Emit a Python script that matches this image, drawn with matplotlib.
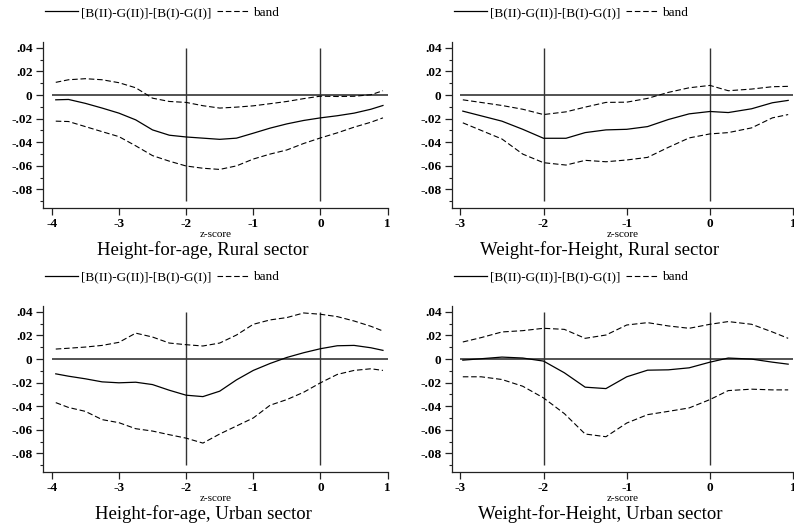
import matplotlib
matplotlib.use("Agg")
import matplotlib.pyplot as plt
from matplotlib.lines import Line2D

plt.rcParams['font.family'] = ['Liberation Serif', 'DejaVu Serif']

# ---------------- data ----------------
x_hfa = [-3.94, -3.75, -3.5, -3.25, -3, -2.75, -2.5, -2.25, -2, -1.75, -1.5,
         -1.25, -1, -0.75, -0.5, -0.25, 0, 0.25, 0.5, 0.75, 0.93]

hfa_rural_est = [-0.004, -0.0037, -0.007, -0.011, -0.0153, -0.021, -0.0295, -0.034,
                 -0.0355, -0.0365, -0.0375, -0.0365, -0.0323, -0.028, -0.0244, -0.0215,
                 -0.0193, -0.0175, -0.0153, -0.012, -0.0088]
hfa_rural_up = [0.0108, 0.013, 0.0139, 0.013, 0.0105, 0.0062, -0.0026, -0.0054,
                -0.0062, -0.009, -0.011, -0.0102, -0.0091, -0.0073, -0.0054, -0.003,
                -0.0009, -0.0012, -0.001, 0.0003, 0.0037]
hfa_rural_lo = [-0.0221, -0.0224, -0.0267, -0.031, -0.0352, -0.043, -0.0513, -0.056,
                -0.0601, -0.062, -0.063, -0.060, -0.0542, -0.050, -0.0465, -0.041,
                -0.0363, -0.032, -0.0272, -0.023, -0.0193]

hfa_urban_est = [-0.0125, -0.0145, -0.0167, -0.0193, -0.0201, -0.0196, -0.0216, -0.0264,
                 -0.0306, -0.0318, -0.0272, -0.0176, -0.0096, -0.0037, 0.0014, 0.0054,
                 0.0088, 0.0113, 0.0116, 0.0096, 0.0074]
hfa_urban_up = [0.0085, 0.0092, 0.0102, 0.0116, 0.0142, 0.022, 0.0187, 0.0136,
                0.0122, 0.0111, 0.0136, 0.0204, 0.0295, 0.0332, 0.0352, 0.0391,
                0.038, 0.036, 0.0323, 0.0278, 0.0238]
hfa_urban_lo = [-0.0369, -0.041, -0.0443, -0.0513, -0.0539, -0.059, -0.061, -0.0641,
                -0.067, -0.0712, -0.0635, -0.0567, -0.0499, -0.0391, -0.0343, -0.0281,
                -0.0201, -0.013, -0.0096, -0.0082, -0.0096]

x_wfh_r = [-2.97, -2.5, -2.25, -2, -1.73, -1.5, -1.25, -1, -0.75, -0.5, -0.25,
           0, 0.22, 0.5, 0.75, 0.94]
wfh_rural_est = [-0.0136, -0.0221, -0.029, -0.0366, -0.0366, -0.0318, -0.0295, -0.029,
                 -0.0267, -0.0207, -0.0159, -0.0139, -0.0148, -0.0116, -0.0065, -0.0045]
wfh_rural_up = [-0.004, -0.0088, -0.012, -0.0165, -0.0142, -0.0102, -0.0062, -0.006,
                -0.0028, 0.0023, 0.0062, 0.0082, 0.0037, 0.0051, 0.0071, 0.0074]
wfh_rural_lo = [-0.0235, -0.0372, -0.05, -0.0573, -0.0593, -0.0553, -0.0565, -0.055,
                -0.0528, -0.0443, -0.0363, -0.0329, -0.0318, -0.0278, -0.0193, -0.0165]

x_wfh_u = [-2.97, -2.75, -2.5, -2.25, -2, -1.75, -1.5, -1.25, -1, -0.75, -0.5,
           -0.25, 0, 0.22, 0.5, 0.75, 0.94]
wfh_urban_est = [-0.0009, 0.0003, 0.0017, 0.0009, -0.0017, -0.0116, -0.0238, -0.025,
                 -0.015, -0.0094, -0.0091, -0.0074, -0.0026, 0.0009, 0.0, -0.0026, -0.0043]
wfh_urban_up = [0.0145, 0.0182, 0.023, 0.0241, 0.0261, 0.0252, 0.0176, 0.0204,
                0.0289, 0.0309, 0.0281, 0.0261, 0.0295, 0.0318, 0.0295, 0.023, 0.0176]
wfh_urban_lo = [-0.015, -0.015, -0.0173, -0.023, -0.0329, -0.0462, -0.0635, -0.0658,
                -0.0542, -0.0471, -0.0443, -0.0414, -0.0343, -0.0267, -0.0255, -0.0261, -0.0261]

y_ticks = [0.04, 0.02, 0, -0.02, -0.04, -0.06, -0.08]
y_ticklabels = ['.04', '.02', '0', '-.02', '-.04', '-.06', '-.08']
legend_labels = ['[B(II)-G(II)]-[B(I)-G(I)]', 'band']
titles = ['Height-for-age, Rural sector', 'Weight-for-Height, Rural sector',
          'Height-for-age, Urban sector', 'Weight-for-Height, Urban sector']

panels = [
    (x_hfa, hfa_rural_est, hfa_rural_up, hfa_rural_lo, [-4, -3, -2, -1, 0, 1]),
    (x_wfh_r, wfh_rural_est, wfh_rural_up, wfh_rural_lo, [-3, -2, -1, 0, 1]),
    (x_hfa, hfa_urban_est, hfa_urban_up, hfa_urban_lo, [-4, -3, -2, -1, 0, 1]),
    (x_wfh_u, wfh_urban_est, wfh_urban_up, wfh_urban_lo, [-3, -2, -1, 0, 1]),
]

# ---------------- figure ----------------
W, H = 794, 529
fig = plt.figure(figsize=(W / 100, H / 100), dpi=100)
fig.patch.set_facecolor('white')

# axes boxes in pixels: (left, top, right, bottom)
boxes = [(43, 42, 388, 208), (452, 42, 794, 208),
         (43, 306, 388, 472), (452, 306, 794, 472)]
xlims = [(-4.13, 1.005), (-3.1, 1.01), (-4.13, 1.005), (-3.1, 1.01)]
title_cx = [203, 600, 203, 600]

dash = (0, (5, 2.5))
for i, (box, (xs, est, up, lo, xt)) in enumerate(zip(boxes, panels)):
    l, t, r, b = box
    ax = fig.add_axes([l / W, 1 - b / H, (r - l) / W, (b - t) / H])
    ax.set_xlim(*xlims[i])
    ax.set_ylim(-0.0957, 0.045)
    for s in ['top', 'right']:
        ax.spines[s].set_visible(False)
    for s in ['left', 'bottom']:
        ax.spines[s].set_linewidth(0.9)
        ax.spines[s].set_color('#222222')

    ax.hlines(0, xt[0], xt[-1], color='#444444', lw=1.3, zorder=1)
    ax.vlines([-2, 0], -0.09, 0.04, color='#333333', lw=1.0, zorder=1)

    ax.plot(xs, est, color='black', lw=0.9, zorder=3)
    ax.plot(xs, up, color='black', lw=0.8, ls=dash, zorder=3)
    ax.plot(xs, lo, color='black', lw=0.8, ls=dash, zorder=3)

    ax.set_yticks(y_ticks)
    ax.set_yticklabels(y_ticklabels)
    ax.set_yticks([0.03, 0.01, -0.01, -0.03, -0.05, -0.07, -0.09], minor=True)
    ax.set_xticks(xt)
    ax.set_xticklabels([str(v) for v in xt])
    ax.tick_params(axis='both', which='major', length=5, width=0.9,
                   labelsize=9.5, pad=2.5, colors='#222222', labelcolor='black')
    ax.tick_params(axis='y', which='minor', length=2.5, width=0.8, colors='#222222')
    for lab in ax.get_yticklabels() + ax.get_xticklabels():
        lab.set_fontweight('bold')

    ax.set_xlabel('z-score', fontsize=8, labelpad=0)

    fig.text(title_cx[i] / W, 1 - (b + 42) / H, titles[i], fontsize=13.5,
             ha='center', va='center')

    handles = [Line2D([], [], color='black', lw=0.9),
               Line2D([], [], color='black', lw=0.8, ls=dash)]
    fig.legend(handles, legend_labels, ncol=2, frameon=False, fontsize=9.5,
               loc='center left', bbox_to_anchor=((l + 2) / W, 1 - (t - 29) / H),
               handlelength=2.5, handletextpad=0.25, columnspacing=0.4,
               borderaxespad=0, borderpad=0)

fig.savefig('out.png', dpi=100, facecolor='white')
